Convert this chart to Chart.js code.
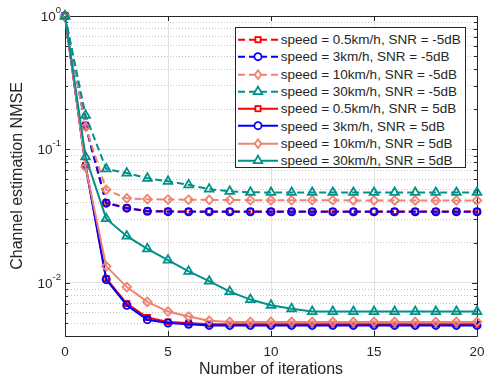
<!DOCTYPE html>
<html>
<head>
<meta charset="utf-8">
<script src="https://cdn.jsdelivr.net/npm/chart.js@4.4.1/dist/chart.umd.min.js"></script>
<style>
  html, body { margin: 0; padding: 0; background: #fff; }
  #wrap { position: relative; width: 485px; height: 381px; }
  #legend {
    position: absolute; left: 235px; top: 27px; width: 231px; height: 141px;
    box-sizing: border-box; border: 1px solid #262626; background: #fff;
    padding-top: 3px; font: 13.5px "Liberation Sans", Arial, sans-serif; color: #262626;
  }
  .row { display: flex; align-items: center; height: 17.3px; white-space: nowrap; }
  .row svg { flex: none; }
</style>
</head>
<body>
<div id="wrap">
  <canvas id="nmseChart" width="485" height="381"></canvas>
  <div id="legend"></div>
</div>
<script>
// datos
const iterations = [0, 1, 2, 3, 4, 5, 6, 7, 8, 9, 10, 11, 12, 13, 14, 15, 16, 17, 18, 19, 20];

const seriesLabels = [
  'speed = 0.5km/h, SNR = -5dB',
  'speed = 3km/h, SNR = -5dB',
  'speed = 10km/h, SNR = -5dB',
  'speed = 30km/h, SNR = -5dB',
  'speed = 0.5km/h, SNR = 5dB',
  'speed = 3km/h, SNR = 5dB',
  'speed = 10km/h, SNR = 5dB',
  'speed = 30km/h, SNR = 5dB'
];

const v05kmhLow = [1.0, 0.152, 0.0400, 0.0365, 0.0346, 0.0344, 0.0343, 0.0343, 0.0343, 0.0343, 0.0343,
  0.0343, 0.0343, 0.0343, 0.0343, 0.0343, 0.0343, 0.0343, 0.0343, 0.0343, 0.0343];
const v3kmhLow = [1.0, 0.150, 0.0396, 0.0363, 0.0344, 0.0342, 0.0341, 0.0341, 0.0341, 0.0341, 0.0341,
  0.0341, 0.0341, 0.0341, 0.0341, 0.0341, 0.0341, 0.0341, 0.0341, 0.0341, 0.0341];
const v10kmhLow = [1.0, 0.148, 0.0499, 0.0430, 0.0424, 0.0422, 0.0420, 0.0419, 0.0418, 0.0417, 0.0417,
  0.0416, 0.0416, 0.0416, 0.0415, 0.0415, 0.0415, 0.0415, 0.0415, 0.0415, 0.0415];
const v30kmhLow = [1.0, 0.180, 0.0714, 0.0665, 0.0608, 0.0577, 0.0543, 0.0504, 0.0485, 0.0478, 0.0476,
  0.0476, 0.0476, 0.0476, 0.0476, 0.0476, 0.0476, 0.0476, 0.0476, 0.0476, 0.0476];
const v05kmhHigh = [1.0, 0.076, 0.0108, 0.0070, 0.0055, 0.0051, 0.0050, 0.0049, 0.0049, 0.0049, 0.0049,
  0.0049, 0.0049, 0.0049, 0.0049, 0.0049, 0.0049, 0.0049, 0.0049, 0.0049, 0.0049];
const v3kmhHigh = [1.0, 0.075, 0.0106, 0.0068, 0.0053, 0.0050, 0.0049, 0.0048, 0.0048, 0.0048, 0.0048,
  0.0048, 0.0048, 0.0048, 0.0048, 0.0048, 0.0048, 0.0048, 0.0048, 0.0048, 0.0048];
const v10kmhHigh = [1.0, 0.074, 0.0133, 0.0093, 0.0072, 0.0061, 0.0056, 0.0052, 0.0051, 0.0051, 0.0051,
  0.0051, 0.0051, 0.0051, 0.0051, 0.0051, 0.0051, 0.0051, 0.0051, 0.0051, 0.0051];
const v30kmhHigh = [1.0, 0.088, 0.0303, 0.0224, 0.0180, 0.0148, 0.0122, 0.0103, 0.0086, 0.0075, 0.0068,
  0.0064, 0.0061, 0.0061, 0.0061, 0.0061, 0.0061, 0.0061, 0.0061, 0.0061, 0.0061];

const seriesValues = [v05kmhLow, v3kmhLow, v10kmhLow, v30kmhLow, v05kmhHigh, v3kmhHigh, v10kmhHigh, v30kmhHigh];

const xTicks = [0, 5, 10, 15, 20];
const yDecades = [1, 0.1, 0.01];
const yDecadeExponents = ['0', '-1', '-2'];
const yMinorTicks = [0.004, 0.005, 0.006, 0.007, 0.008, 0.009, 0.02, 0.03, 0.04, 0.05, 0.06, 0.07, 0.08, 0.09,
  0.2, 0.3, 0.4, 0.5, 0.6, 0.7, 0.8, 0.9];

// estilos (tipo matlab)
const FONT = '"Liberation Sans", Arial, sans-serif';
const TXT = '#262626';
const colors = ['#ff0000', '#0000ff', '#f08272', '#00918a'];
const markers = [
  { style: 'rect', r: 3.6 },
  { style: 'circle', r: 3.6 },
  { style: 'rectRot', r: 4.3 },
  { style: 'triangle', r: 5 }
];
const DASH = [7, 4];

const datasets = seriesValues.map((vals, i) => {
  const k = i % 4;
  const dashed = i < 4;
  return {
    label: seriesLabels[i],
    data: iterations.map((x, j) => ({ x: x, y: vals[j] })),
    borderColor: colors[k],
    backgroundColor: colors[k],
    borderWidth: 2,
    borderDash: dashed ? DASH : [],
    pointStyle: markers[k].style,
    pointRadius: markers[k].r,
    pointBorderWidth: 1.8,
    pointBorderColor: colors[k],
    pointBackgroundColor: 'rgba(255,255,255,0)',
    tension: 0,
    clip: false,
    order: 8 - i // el ultimo se dibuja encima
  };
});

// caja, ticks hacia adentro y etiquetas 10^n
const axesPlugin = {
  id: 'matlabAxes',
  beforeDatasetsDraw(chart) {
    const { ctx, chartArea: a, scales } = chart;
    ctx.save();
    ctx.strokeStyle = TXT;
    ctx.lineWidth = 1;
    ctx.beginPath();
    ctx.rect(Math.round(a.left) + 0.5, Math.round(a.top) + 0.5,
      Math.round(a.right - a.left), Math.round(a.bottom - a.top));
    ctx.stroke();

    ctx.beginPath();
    xTicks.forEach(v => {
      const px = Math.round(scales.x.getPixelForValue(v)) + 0.5;
      ctx.moveTo(px, a.bottom); ctx.lineTo(px, a.bottom - 5);
      ctx.moveTo(px, a.top); ctx.lineTo(px, a.top + 5);
    });
    yDecades.forEach(v => {
      const py = Math.round(scales.y.getPixelForValue(v)) + 0.5;
      ctx.moveTo(a.left, py); ctx.lineTo(a.left + 5, py);
      ctx.moveTo(a.right, py); ctx.lineTo(a.right - 5, py);
    });
    yMinorTicks.forEach(v => {
      const py = Math.round(scales.y.getPixelForValue(v)) + 0.5;
      ctx.moveTo(a.left, py); ctx.lineTo(a.left + 3, py);
      ctx.moveTo(a.right, py); ctx.lineTo(a.right - 3, py);
    });
    ctx.stroke();
    ctx.restore();
  },
  afterDraw(chart) {
    const { ctx, chartArea: a, scales } = chart;
    ctx.save();
    ctx.fillStyle = TXT;
    ctx.textBaseline = 'middle';
    yDecades.forEach((v, i) => {
      const py = scales.y.getPixelForValue(v);
      const right = a.left - 4;
      ctx.font = '9.5px ' + FONT;
      const we = ctx.measureText(yDecadeExponents[i]).width;
      ctx.textAlign = 'left';
      ctx.fillText(yDecadeExponents[i], right - we, py - 6);
      ctx.font = '13.5px ' + FONT;
      ctx.textAlign = 'right';
      ctx.fillText('10', right - we, py + 1);
    });
    ctx.restore();
  }
};

new Chart(document.getElementById('nmseChart'), {
  type: 'line',
  data: { datasets: datasets },
  options: {
    responsive: false,
    animation: false,
    layout: { padding: { top: 16, right: 8, left: 0, bottom: 0 } },
    plugins: {
      legend: { display: false },
      tooltip: { enabled: false }
    },
    scales: {
      x: {
        type: 'linear',
        min: 0,
        max: 20,
        afterBuildTicks: (scale) => { scale.ticks = xTicks.map(v => ({ value: v })); },
        afterFit: (scale) => {
          scale.height = 45;
          scale.paddingLeft = 0;
          scale.paddingRight = 0;
        },
        ticks: {
          color: TXT,
          font: { family: FONT, size: 13.5 },
          padding: 8,
          maxRotation: 0,
          autoSkip: false
        },
        grid: { color: '#e3e3e3', lineWidth: 1, drawTicks: false },
        border: { display: false },
        title: {
          display: true,
          text: 'Number of iterations',
          color: TXT,
          font: { family: FONT, size: 16 },
          padding: { top: 0, bottom: 2 }
        }
      },
      y: {
        type: 'logarithmic',
        min: 0.004,
        max: 1,
        afterBuildTicks: (scale) => {
          const all = yMinorTicks.map(v => ({ value: v, major: false }))
            .concat(yDecades.map(v => ({ value: v, major: true })));
          all.sort((p, q) => p.value - q.value);
          scale.ticks = all;
        },
        afterFit: (scale) => {
          scale.width = 65;
          scale.paddingTop = 0;
          scale.paddingBottom = 0;
        },
        ticks: {
          autoSkip: false,
          callback: () => '',
          font: { family: FONT, size: 13.5 }
        },
        grid: {
          drawTicks: false,
          lineWidth: 1,
          color: (c) => (c.tick && !c.tick.major) ? '#c4c4c4' : '#e0e0e0'
        },
        border: {
          display: false,
          dash: (c) => (c.tick && !c.tick.major) ? [1, 2] : []
        },
        title: {
          display: true,
          text: 'Channel estimation NMSE',
          color: TXT,
          font: { family: FONT, size: 16 },
          padding: { top: 8, bottom: 0 }
        }
      }
    }
  },
  plugins: [axesPlugin]
});

// leyenda html con muestra de linea y marcador
function markerSvg(k) {
  const c = colors[k];
  const cx = 22, cy = 8.65;
  if (k === 0) return `<rect x="${cx - 2.6}" y="${cy - 2.6}" width="5.2" height="5.2" fill="#fff" stroke="${c}" stroke-width="1.8"/>`;
  if (k === 1) return `<circle cx="${cx}" cy="${cy}" r="3.6" fill="#fff" stroke="${c}" stroke-width="1.8"/>`;
  if (k === 2) return `<polygon points="${cx},${cy - 4.3} ${cx + 3.3},${cy} ${cx},${cy + 4.3} ${cx - 3.3},${cy}" fill="#fff" stroke="${c}" stroke-width="1.8"/>`;
  return `<polygon points="${cx},${cy - 5} ${cx + 4.3},${cy + 2.5} ${cx - 4.3},${cy + 2.5}" fill="#fff" stroke="${c}" stroke-width="1.8"/>`;
}

const legendEl = document.getElementById('legend');
seriesLabels.forEach((label, i) => {
  const k = i % 4;
  const dash = i < 4 ? `stroke-dasharray="${DASH.join(' ')}"` : '';
  const row = document.createElement('div');
  row.className = 'row';
  row.innerHTML = `<svg width="44.7" height="17.3"><line x1="2" y1="8.65" x2="42" y2="8.65" stroke="${colors[k]}" stroke-width="2" ${dash}/>${markerSvg(k)}</svg><span>${label}</span>`;
  legendEl.appendChild(row);
});
</script>
</body>
</html>
